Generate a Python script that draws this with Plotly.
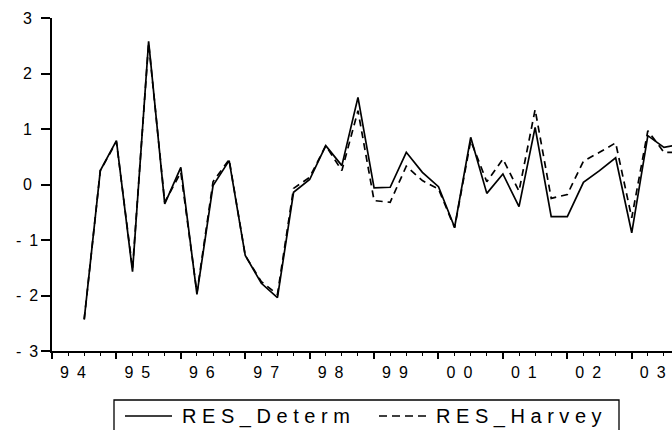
import plotly.graph_objects as go

# ---- data (quarterly residuals) ----
quarters = ["1994Q3", "1994Q4",
            "1995Q1", "1995Q2", "1995Q3", "1995Q4",
            "1996Q1", "1996Q2", "1996Q3", "1996Q4",
            "1997Q1", "1997Q2", "1997Q3", "1997Q4",
            "1998Q1", "1998Q2", "1998Q3", "1998Q4",
            "1999Q1", "1999Q2", "1999Q3", "1999Q4",
            "2000Q1", "2000Q2", "2000Q3", "2000Q4",
            "2001Q1", "2001Q2", "2001Q3", "2001Q4",
            "2002Q1", "2002Q2", "2002Q3", "2002Q4",
            "2003Q1", "2003Q2", "2003Q3", "2003Q4"]

res_determ = [-2.43, 0.25, 0.79, -1.57, 2.58, -0.35, 0.31, -1.98, -0.02, 0.43,
              -1.28, -1.78, -2.04, -0.14, 0.09, 0.70, 0.34, 1.57, -0.06, -0.05,
              0.58, 0.22, -0.04, -0.77, 0.85, -0.16, 0.19, -0.40, 1.03, -0.58,
              -0.58, 0.04, 0.25, 0.48, -0.87, 0.88, 0.67, 0.72]

res_harvey = [-2.43, 0.25, 0.77, -1.52, 2.55, -0.32, 0.22, -1.95, 0.05, 0.45,
              -1.28, -1.75, -1.98, -0.07, 0.13, 0.70, 0.25, 1.33, -0.29, -0.32,
              0.33, 0.07, -0.08, -0.78, 0.79, 0.05, 0.46, -0.12, 1.35, -0.25,
              -0.18, 0.42, 0.58, 0.75, -0.60, 0.97, 0.58, 0.58]

year_labels = ["94", "95", "96", "97", "98", "99", "00", "01", "02", "03"]
y_ticks = [-3, -2, -1, 0, 1, 2, 3]
series_names = ["RES_Determ", "RES_Harvey"]

BASE_YEAR = 1994
FONT = "Liberation Sans, Arial, sans-serif"
SP = "\u2002"


def qpos(q):
    y, qq = q.split("Q")
    return (int(y) - BASE_YEAR) * 4 + (int(qq) - 1)


x = [qpos(q) for q in quarters]
n_years = len(year_labels)
year_pos = [i * 4 for i in range(n_years)]
label_pos = [p + 1.3 for p in year_pos]
quarter_pos = list(range(0, n_years * 4 + 1))
xrange = [0, 38.5]


def spaced(s, sep):
    return sep.join(list(s))


fig = go.Figure()
fig.add_trace(go.Scatter(x=x, y=res_determ, mode="lines", name=series_names[0],
                         line=dict(color="black", width=1.7), showlegend=False))
fig.add_trace(go.Scatter(x=x, y=res_harvey, mode="lines", name=series_names[1],
                         line=dict(color="black", width=1.7, dash="7px,5px"),
                         showlegend=False))
# empty trace carrying the tick-mark axis
fig.add_trace(go.Scatter(x=[], y=[], xaxis="x2", showlegend=False))

fig.update_layout(
    width=672, height=430,
    margin=dict(l=52, r=0, t=18, b=79),
    paper_bgcolor="white", plot_bgcolor="white",
    font=dict(family=FONT, size=16, color="black"),
    showlegend=False,
    xaxis=dict(range=xrange, showgrid=False, zeroline=False,
               showline=True, linecolor="black", linewidth=2,
               tickmode="array", tickvals=label_pos,
               ticktext=[spaced(s, SP) for s in year_labels],
               ticks="", ticklabelstandoff=6,
               tickfont=dict(family=FONT, size=16, color="black")),
    xaxis2=dict(range=xrange, overlaying="x", anchor="y", side="bottom",
                showgrid=False, zeroline=False, showline=False,
                tickmode="array", tickvals=year_pos, ticks="outside",
                ticklen=7, tickwidth=1.6, tickcolor="black",
                showticklabels=False,
                minor=dict(tickmode="array", tickvals=quarter_pos,
                           ticks="outside", ticklen=4, tickwidth=1.4,
                           tickcolor="black", showgrid=False)),
    yaxis=dict(range=[-3, 3], showgrid=False, zeroline=False,
               showline=True, linecolor="black", linewidth=2,
               tickmode="array", tickvals=y_ticks, showticklabels=False,
               ticks="outside", ticklen=9, tickwidth=1.6, tickcolor="black"),
)

W, H = 620.0, 333.0


def px(xp):
    return (xp - 52) / W


def py(yp):
    return (351 - yp) / H


# y tick labels, centred like the reference
for v in y_ticks:
    t = ("-" + SP + str(abs(v))) if v < 0 else str(v)
    fig.add_annotation(xref="paper", yref="y", x=px(27), y=v,
                       xanchor="center", yanchor="middle", showarrow=False,
                       text=t, font=dict(family=FONT, size=16, color="black"))

# ---- manual legend (box partly below the page, as in the reference) ----
fig.add_shape(type="rect", xref="paper", yref="paper",
              x0=px(114), x1=px(619), y0=py(445), y1=py(400),
              line=dict(color="black", width=1.3), fillcolor="rgba(0,0,0,0)")
fig.add_shape(type="line", xref="paper", yref="paper",
              x0=px(125), x1=px(172), y0=py(416), y1=py(416),
              line=dict(color="black", width=1.3))
fig.add_shape(type="line", xref="paper", yref="paper",
              x0=px(379), x1=px(427), y0=py(416), y1=py(416),
              line=dict(color="black", width=1.3, dash="8px,5px"))
for name, xl in zip(series_names, [180, 434]):
    fig.add_annotation(xref="paper", yref="paper", x=px(xl), y=py(416),
                       xanchor="left", yanchor="middle", showarrow=False,
                       text=spaced(name, "\u00a0"),
                       font=dict(family=FONT, size=20, color="black"))

fig.write_html("out.html")
